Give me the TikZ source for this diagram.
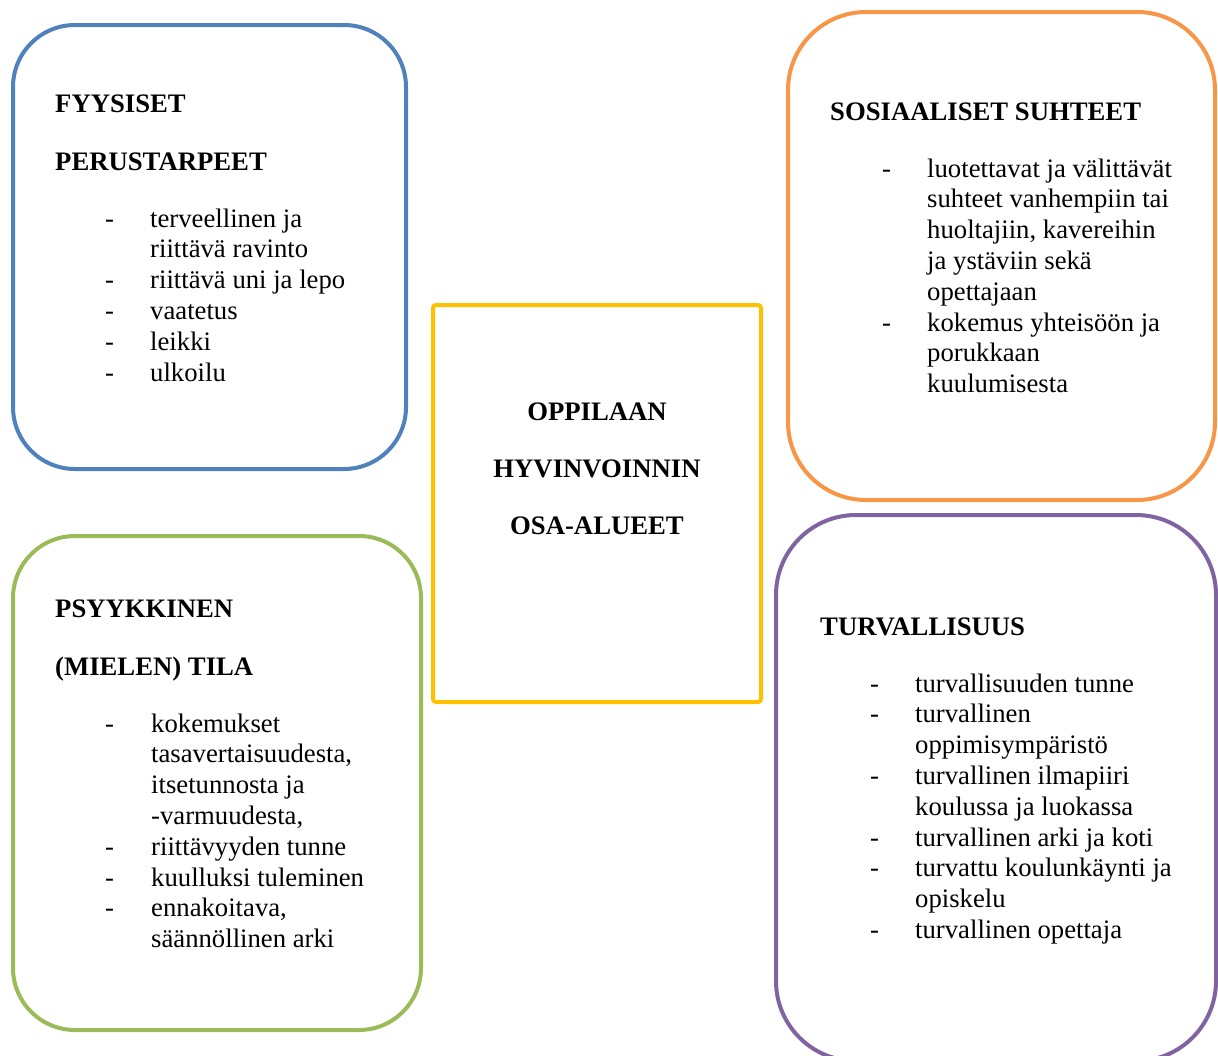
\documentclass[tikz,border=0pt]{standalone}
\usepackage{fontspec}
\setmainfont{Liberation Serif}
\usetikzlibrary{positioning}

\definecolor{fyscol}{HTML}{4F81BD}
\definecolor{soscol}{HTML}{F79646}
\definecolor{psycol}{HTML}{9BBB59}
\definecolor{turcol}{HTML}{8064A2}
\definecolor{osacol}{HTML}{FFC000}

\def\bodyfont{\fontsize{26.7pt}{30.8pt}\selectfont}
\def\linesep{30.8}

\begin{document}
\begin{tikzpicture}[x=1pt,y=-1pt,font=\bodyfont]
				\tikzstyle{area}=[draw,line width=4pt,rounded corners=62pt,inner sep=0pt]
				\tikzstyle{heading}=[anchor=base west,inner sep=0pt,font=\bodyfont\bfseries]
				\tikzstyle{line}=[anchor=base west,inner sep=0pt]
				\useasboundingbox (0,0) rectangle (1218,1055);

				% The four areas and the middle box
				\node[area,draw=fyscol,minimum width=393pt,minimum height=444pt] (fys) at (209.5,247) {};
				\node[area,draw=soscol,minimum width=427pt,minimum height=488pt,rounded corners=78pt] (sos) at (1001.5,256) {};
				\node[area,draw=psycol,minimum width=408pt,minimum height=494pt] (psy) at (217,783) {};
				\node[area,draw=turcol,minimum width=440pt,minimum height=546pt,rounded corners=80pt] (tur) at (996,788) {};
				\node[area,draw=osacol,minimum width=328pt,minimum height=397pt,rounded corners=3pt] (osa) at (597,503.5) {};

				% Middle title
				\node[heading,anchor=base] (osa1) at (597,420) {OPPILAAN};
				\node[heading,anchor=base] (osa2) at (597,477) {HYVINVOINNIN};
				\node[heading,anchor=base] (osa3) at (597,534) {OSA-ALUEET};

				% Fyysiset perustarpeet
				\node[heading] (fys1) at (55,112) {FYYSISET};
				\node[heading] (fys2) at (55,170) {PERUSTARPEET};
				\foreach \txt [count=\i from 0] in {terveellinen ja, riittävä ravinto, riittävä uni ja lepo, vaatetus, leikki, ulkoilu}
					\node[line] (fys-\i) at (150,227+\linesep*\i) {\txt};
				\foreach \i in {0,2,3,4,5}
					\node[line] (fysdash-\i) at (105,227+\linesep*\i) {-};

				% Sosiaaliset suhteet
				\node[heading] (sos1) at (830,120) {SOSIAALISET SUHTEET};
				\foreach \txt [count=\i from 0] in {luotettavat ja välittävät, suhteet vanhempiin tai, {huoltajiin, kavereihin}, ja ystäviin sekä, opettajaan, kokemus yhteisöön ja, porukkaan, kuulumisesta}
					\node[line] (sos-\i) at (927,177+\linesep*\i) {\txt};
				\foreach \i in {0,5}
					\node[line] (sosdash-\i) at (882,177+\linesep*\i) {-};

				% Psyykkinen tila
				\node[heading] (psy1) at (55,617) {PSYYKKINEN};
				\node[heading] (psy2) at (55,675) {(MIELEN) TILA};
				\foreach \txt [count=\i from 0] in {kokemukset, {tasavertaisuudesta,}, itsetunnosta ja, {-varmuudesta,}, riittävyyden tunne, kuulluksi tuleminen, {ennakoitava,}, säännöllinen arki}
					\node[line] (psy-\i) at (151,732+\linesep*\i) {\txt};
				\foreach \i in {0,4,5,6}
					\node[line] (psydash-\i) at (105,732+\linesep*\i) {-};

				% Turvallisuus
				\node[heading] (tur1) at (820,635) {TURVALLISUUS};
				\foreach \txt [count=\i from 0] in {turvallisuuden tunne, turvallinen, oppimisympäristö, turvallinen ilmapiiri, koulussa ja luokassa, turvallinen arki ja koti, turvattu koulunkäynti ja, opiskelu, turvallinen opettaja}
					\node[line] (tur-\i) at (915,692+\linesep*\i) {\txt};
				\foreach \i in {0,1,3,5,6,8}
					\node[line] (turdash-\i) at (870,692+\linesep*\i) {-};

\end{tikzpicture}
\end{document}
